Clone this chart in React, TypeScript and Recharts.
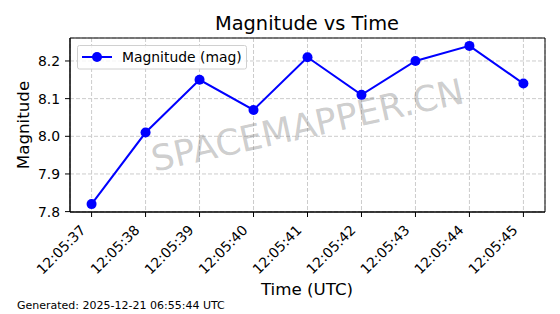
import { LineChart, Line, XAxis, YAxis, CartesianGrid, ReferenceArea } from 'recharts'

const times = ['12:05:37', '12:05:38', '12:05:39', '12:05:40', '12:05:41', '12:05:42', '12:05:43', '12:05:44', '12:05:45']
const magnitudes = [7.82, 8.01, 8.15, 8.07, 8.21, 8.11, 8.2, 8.24, 8.14]
const yTicks = [7.8, 7.9, 8.0, 8.1, 8.2]
const xTicks = times.map((_, i) => i)

const FONT = '"DejaVu Sans", sans-serif'
const BLUE = '#0000ff'
const X_DOMAIN: [number, number] = [-0.4, 8.4]
const Y_DOMAIN: [number, number] = [7.799, 8.261]

const data = times.map((time, i) => ({ idx: i, time, mag: magnitudes[i] }))

function TimeTick({ x, y, payload }: any) {
  const ax = x - 5
  const ay = y + 14
  return (
    <text
      x={ax}
      y={ay}
      transform={`rotate(-45 ${ax} ${ay})`}
      textAnchor="end"
      fontSize={13.9}
      fill="#000"
      fontFamily={FONT}
    >
      {times[payload.value]}
    </text>
  )
}

function Watermark({ viewBox }: any) {
  const vb = viewBox || { x: 70, y: 38, width: 475, height: 174 }
  const cx = vb.x + vb.width / 2
  const cy = vb.y + vb.height / 2
  return (
    <text
      x={cx}
      y={cy}
      transform={`rotate(-12.5 ${cx} ${cy})`}
      textAnchor="middle"
      dominantBaseline="central"
      fontSize={35.5}
      fill="#808080"
      fillOpacity={0.4}
      fontFamily={FONT}
    >
      SPACEMAPPER.CN
    </text>
  )
}

export default function App() {
  return (
    <div style={{ position: 'absolute', left: 0, top: 0, width: 560, height: 314, background: '#fff', fontFamily: FONT }}>
      <LineChart
        width={560}
        height={314}
        data={data}
        margin={{ top: 38, right: 15, left: 10, bottom: 22 }}
      >
        <CartesianGrid stroke="#cccccc" strokeDasharray="4 2" />
        <XAxis
          dataKey="idx"
          type="number"
          domain={X_DOMAIN}
          ticks={xTicks}
          allowDataOverflow
          height={80}
          tickSize={5}
          tickMargin={0}
          interval={0}
          axisLine={{ stroke: '#000' }}
          tickLine={{ stroke: '#000' }}
          tick={<TimeTick />}
        />
        <YAxis
          type="number"
          domain={Y_DOMAIN}
          ticks={yTicks}
          allowDataOverflow
          width={60}
          tickSize={5}
          tickMargin={5}
          axisLine={{ stroke: '#000' }}
          tickLine={{ stroke: '#000' }}
          tick={{ fill: '#000', fontSize: 13.9, fontFamily: FONT }}
          tickFormatter={(v: number) => v.toFixed(1)}
        />
        <Line
          dataKey="mag"
          stroke={BLUE}
          strokeWidth={2}
          dot={{ r: 5, fill: BLUE, stroke: BLUE, strokeWidth: 0 }}
          isAnimationActive={false}
        />
        {/* watermark + axes frame */}
        <ReferenceArea
          x1={X_DOMAIN[0]}
          x2={X_DOMAIN[1]}
          y1={Y_DOMAIN[0]}
          y2={Y_DOMAIN[1]}
          fill="none"
          stroke="#000"
          strokeWidth={1}
          ifOverflow="extendDomain"
          label={<Watermark />}
        />
      </LineChart>

      <svg
        width={560}
        height={314}
        style={{ position: 'absolute', left: 0, top: 0, pointerEvents: 'none' }}
        fontFamily={FONT}
      >
        <text x={307} y={30} textAnchor="middle" fontSize={19.4} fill="#000">Magnitude vs Time</text>
        <text x={307} y={295} textAnchor="middle" fontSize={16.7} fill="#000">Time (UTC)</text>
        <text x={29} y={125} transform="rotate(-90 29 125)" textAnchor="middle" fontSize={16.7} fill="#000">Magnitude</text>
        <text x={17} y={309} fontSize={11} fill="#000">Generated: 2025-12-21 06:55:44 UTC</text>

        {/* legend */}
        <rect x={77.5} y={45.5} width={169} height={23.5} rx={2} fill="#fff" fillOpacity={0.8} stroke="#d0d0d0" />
        <line x1={82} y1={57} x2={112} y2={57} stroke={BLUE} strokeWidth={2} />
        <circle cx={97} cy={57} r={5} fill={BLUE} />
        <text x={122} y={57} dominantBaseline="central" fontSize={13.9} fill="#000">Magnitude (mag)</text>
      </svg>
    </div>
  )
}
